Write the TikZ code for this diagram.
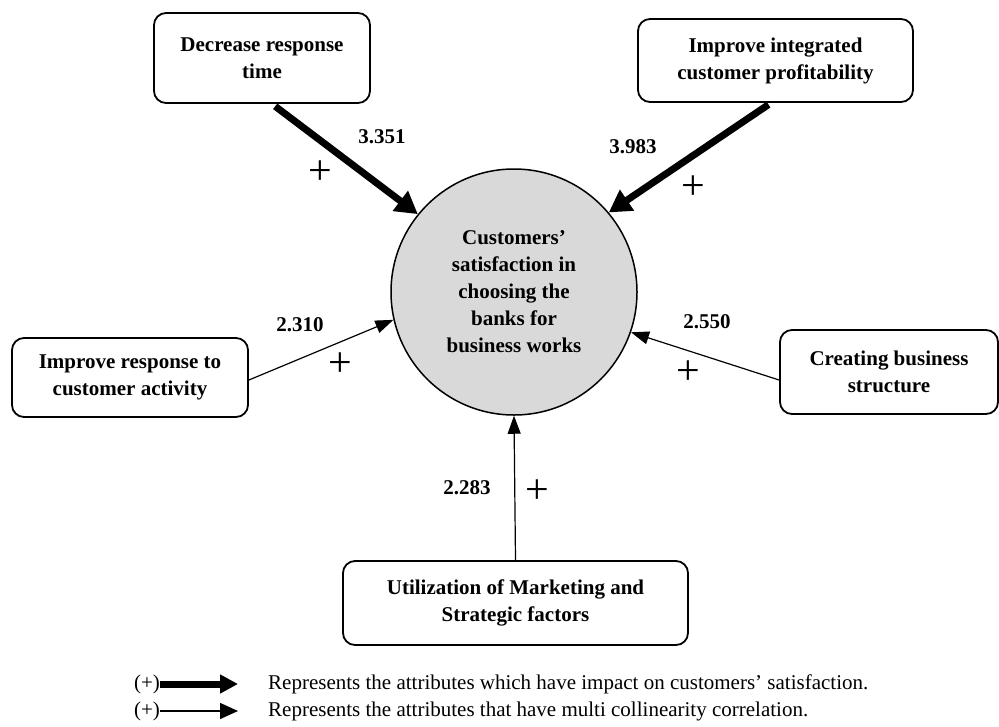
\documentclass[tikz,border=0pt]{standalone}
\usepackage{fontspec}
\setmainfont{Liberation Serif}
\usetikzlibrary{arrows.meta}
\begin{document}
\begin{tikzpicture}[x=1pt,y=-1pt,
  box/.style={draw, line width=1.8pt, rounded corners=12pt, align=center,
    font=\bfseries\fontsize{21}{27}\selectfont, inner sep=0pt},
  hub/.style={draw, circle, line width=1.5pt, fill=gray!30, minimum size=246pt,
    inner sep=0pt, align=center, font=\bfseries\fontsize{21}{27}\selectfont},
  heavy/.style={line width=7pt, -{Triangle[length=22pt,width=24pt]}},
  light/.style={line width=1.2pt, -{Triangle[length=18pt,width=13pt]}},
  val/.style={font=\bfseries\fontsize{21}{21}\selectfont, inner sep=0pt},
  plus/.style={font=\fontsize{42}{42}\selectfont, inner sep=0pt},
  legfont/.style={font=\fontsize{21}{24}\selectfont, inner sep=0pt},
  legtext/.style={legfont, anchor=west},
  legheavy/.style={line width=7pt, -{Triangle[length=18pt,width=18pt]}},
  leglight/.style={line width=1.5pt, -{Triangle[length=18pt,width=16pt]}}
]
\useasboundingbox (0,0) rectangle (999,726);

% central circle
\node[hub] (circ) at (514,292) {Customers’\\satisfaction in\\choosing the\\banks for\\business works};

% boxes
\node[box, minimum width=216pt, minimum height=90pt] (dec) at (262,58) {Decrease response\\time};
\node[box, minimum width=275pt, minimum height=83pt] (imp) at (775.5,60.5) {Improve integrated\\customer profitability};
\node[box, minimum width=236pt, minimum height=79pt] (resp) at (130,377.5) {Improve response to\\customer activity};
\node[box, minimum width=218pt, minimum height=84pt] (creat) at (889,372) {Creating business\\structure};
\node[box, minimum width=345pt, minimum height=84pt] (util) at (515.5,603) {Utilization of Marketing and\\Strategic factors};

% connectors
\draw[heavy, shorten <=4pt] ([xshift=10pt]dec.south) -- (circ.141);
\draw[heavy, shorten <=3pt] ([xshift=-4.5pt]imp.south) -- (circ.40);
\draw[light] ([yshift=-2.5pt]resp.east) -- (circ.193);
\draw[light] ([yshift=-8pt]creat.west) -- (circ.-19);
\draw[light] (util.north) -- (circ.south);

% values
\node[val] (v1) at (382,137) {3.351};
\node[val] (v2) at (633,147) {3.983};
\node[val] (v3) at (300,325) {2.310};
\node[val] (v4) at (707,322) {2.550};
\node[val] (v5) at (467,488) {2.283};

% plus signs
\node[plus] (p1) at (320,173) {+};
\node[plus] (p2) at (693,188) {+};
\node[plus] (p3) at (340,365) {+};
\node[plus] (p4) at (688,373) {+};
\node[plus] (p5) at (537,492) {+};

% legend
\node[legfont] (lp1) at (147,684) {(+)};
\node[legfont] (lp2) at (147,711) {(+)};
\coordinate (la1) at (238,684);
\coordinate (la2) at (238,711);
\draw[legheavy] (lp1.east) -- (la1);
\draw[leglight] (lp2.east) -- (la2);
\node[legtext] (lt1) at (268,684) {Represents the attributes which have impact on customers’ satisfaction.};
\node[legtext] (lt2) at (268,711) {Represents the attributes that have multi collinearity correlation.};
\end{tikzpicture}
\end{document}
